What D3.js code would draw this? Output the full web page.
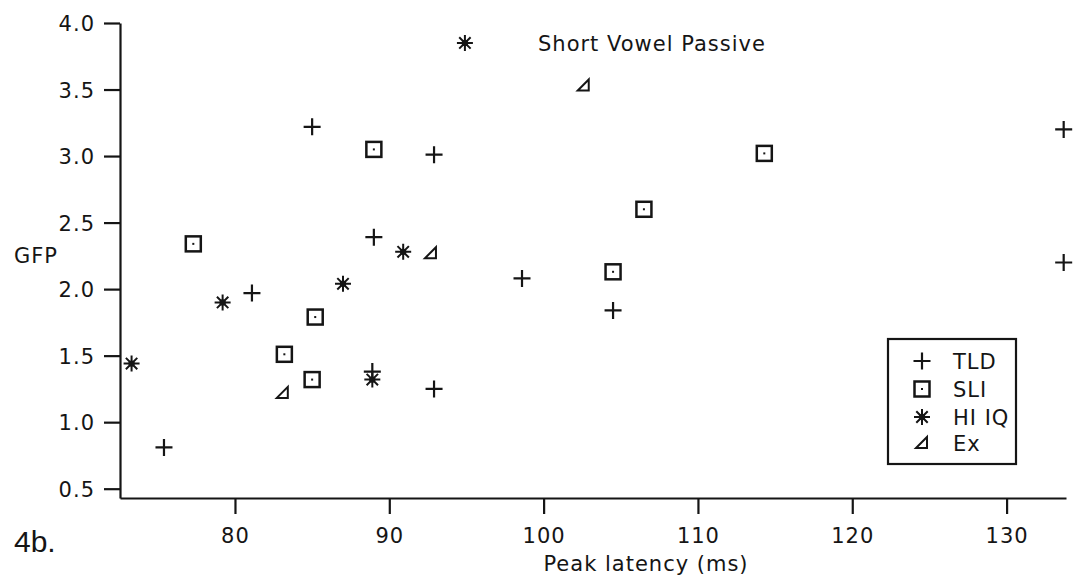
<!DOCTYPE html>
<html>
<head>
<meta charset="utf-8">
<script src="https://cdn.jsdelivr.net/npm/d3@7/dist/d3.min.js"></script>
<style>
  html, body { margin: 0; padding: 0; background: #fff; }
  svg { display: block; }
  text { font-family: "DejaVu Sans", sans-serif; fill: #151515; }
</style>
</head>
<body>
<svg id="chart" width="1086" height="584"></svg>
<script>
// GFP peak latency by group (Short Vowel Passive)
const tldX  = [85.0, 92.9, 89.0, 81.1, 98.6, 104.5, 88.9, 92.9, 75.4, 133.7, 133.7];
const tldY  = [3.22, 3.01, 2.39, 1.97, 2.08, 1.84, 1.38, 1.25, 0.81, 3.20, 2.20];

const sliX  = [89.0, 77.3, 85.2, 83.2, 85.0, 104.5, 106.5, 114.3];
const sliY  = [3.05, 2.34, 1.79, 1.51, 1.32, 2.13, 2.60, 3.02];

const hiiqX = [94.9, 90.9, 87.0, 79.2, 73.3, 88.9];
const hiiqY = [3.85, 2.28, 2.04, 1.90, 1.44, 1.32];

const exX   = [102.6, 92.7, 83.1];
const exY   = [3.53, 2.27, 1.22];

const groupNames = ["TLD", "SLI", "HI IQ", "Ex"];
const xTicks = [80, 90, 100, 110, 120, 130];
const yTicks = [0.5, 1.0, 1.5, 2.0, 2.5, 3.0, 3.5, 4.0];

const ink = "#151515";
const svg = d3.select("#chart");
svg.append("rect").attr("width", 1086).attr("height", 584).attr("fill", "#fff");

const x = d3.scaleLinear().domain([72.55, 133.85]).range([120, 1066]);
const y = d3.scaleLinear().domain([0.43, 4.0]).range([498, 23]);

// axes
const gx = svg.append("g").attr("transform", "translate(0,498)")
  .call(d3.axisBottom(x).tickValues(xTicks).tickSize(16).tickSizeOuter(0).tickPadding(10)
    .tickFormat(d3.format("d")));
const gy = svg.append("g").attr("transform", "translate(120,0)")
  .call(d3.axisLeft(y).tickValues(yTicks).tickSize(16).tickSizeOuter(0).tickPadding(9)
    .tickFormat(d3.format(".1f")));

[gx, gy].forEach(g => {
  g.select(".domain").attr("stroke", ink).attr("stroke-width", 2.2);
  g.selectAll(".tick line").attr("stroke", ink).attr("stroke-width", 2.2);
  g.selectAll(".tick text")
    .attr("fill", ink)
    .style("font-family", "'DejaVu Sans', sans-serif")
    .style("font-size", "21px")
    .style("letter-spacing", "1px");
});
gx.selectAll(".tick text").attr("dy", "0.9em");
gy.selectAll(".tick text").attr("dy", "0.36em");

// titles
svg.append("text").attr("x", 646).attr("y", 571).attr("text-anchor", "middle")
  .style("font-size", "21px").style("letter-spacing", "1px").text("Peak latency (ms)");
svg.append("text").attr("x", 14).attr("y", 263)
  .style("font-size", "21px").style("letter-spacing", "1px").text("GFP");
svg.append("text").attr("x", 14).attr("y", 552)
  .style("font-family", "'Liberation Sans', Arial, sans-serif").style("font-size", "30px")
  .text("4b.");
svg.append("text").attr("x", 538).attr("y", 51)
  .style("font-size", "21px").style("letter-spacing", "1px").text("Short Vowel Passive");

// marker drawing functions, centred at (0,0)
function plus(g) {
  g.append("path").attr("d", "M-8.5,0H8.5M0,-8.5V8.5")
    .attr("stroke", ink).attr("stroke-width", 2.2).attr("fill", "none");
}
function box(g) {
  g.append("rect").attr("x", -7.5).attr("y", -7.5).attr("width", 15).attr("height", 15)
    .attr("stroke", ink).attr("stroke-width", 2.5).attr("fill", "none");
  g.append("rect").attr("x", -1).attr("y", -1).attr("width", 2).attr("height", 2).attr("fill", ink);
}
function star(g) {
  g.append("path").attr("d", "M-8,0H8M0,-8V8M-5.7,-5.7L5.7,5.7M-5.7,5.7L5.7,-5.7")
    .attr("stroke", ink).attr("stroke-width", 2).attr("fill", "none");
  g.append("circle").attr("r", 3.2).attr("fill", ink);
}
function tri(g) {
  g.append("path").attr("d", "M-6,5H5V-6Z")
    .attr("stroke", ink).attr("stroke-width", 2).attr("stroke-linejoin", "miter").attr("fill", "none");
}

const series = [
  { xs: tldX, ys: tldY, draw: plus },
  { xs: sliX, ys: sliY, draw: box },
  { xs: hiiqX, ys: hiiqY, draw: star },
  { xs: exX, ys: exY, draw: tri }
];

series.forEach((s, i) => {
  const pts = s.xs.map((v, k) => [v, s.ys[k]]);
  svg.append("g").attr("class", "series-" + i)
    .selectAll("g").data(pts).join("g")
    .attr("transform", d => `translate(${x(d[0])},${y(d[1])})`)
    .each(function () { s.draw(d3.select(this)); });
});

// legend
const lg = svg.append("g");
lg.append("rect").attr("x", 888).attr("y", 339).attr("width", 128).attr("height", 125)
  .attr("fill", "#fff").attr("stroke", ink).attr("stroke-width", 2.2);
const rowY = [361, 389, 417, 443];
series.forEach((s, i) => {
  const g = lg.append("g").attr("transform", `translate(922,${rowY[i]})`);
  s.draw(g);
  lg.append("text").attr("x", 953).attr("y", rowY[i] + 8)
    .style("font-size", "21px").style("letter-spacing", "1px").text(groupNames[i]);
});
</script>
</body>
</html>
